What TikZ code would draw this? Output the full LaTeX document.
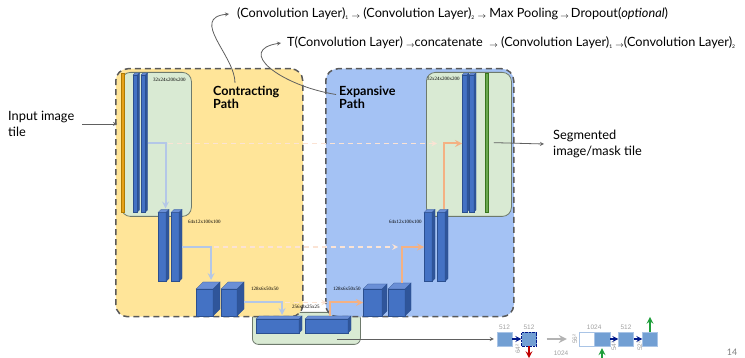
\documentclass[tikz,border=0pt]{standalone}
\usepackage{fontspec}
\setmainfont{Lato}
\newfontfamily\dimfont{Liberation Serif}
\newfontfamily\figfont{Liberation Sans}
\usetikzlibrary{arrows, positioning}

\definecolor{contractyellow}{HTML}{FFE599}
\definecolor{expandblue}{HTML}{A4C2F4}
\definecolor{stagegreen}{HTML}{D9EAD3}
\definecolor{stageedge}{HTML}{6E7A6C}
\definecolor{dashgray}{HTML}{595959}
\definecolor{layerblue}{HTML}{4472C4}
\definecolor{layertop}{HTML}{6A8FD6}
\definecolor{layerside}{HTML}{2F559A}
\definecolor{layeredge}{HTML}{2B4F8F}
\definecolor{inputgold}{HTML}{E6A118}
\definecolor{inputedge}{HTML}{B07B00}
\definecolor{outgreen}{HTML}{6AA84F}
\definecolor{outedge}{HTML}{38761D}
\definecolor{poolblue}{HTML}{B4C7E7}
\definecolor{uporange}{HTML}{F4B183}
\definecolor{croppink}{HTML}{FBE3D4}
\definecolor{arrowgray}{HTML}{606060}
\definecolor{mapblue}{HTML}{729FD3}
\definecolor{mapedge}{HTML}{A9C4E6}
\definecolor{navyarrow}{HTML}{00188A}
\definecolor{downred}{HTML}{C00000}
\definecolor{upgreen}{HTML}{1E9E3A}
\definecolor{labelgray}{HTML}{A0A0A0}

\tikzstyle{pathbox} = [rectangle, rounded corners=12pt, draw=dashgray, line width=1.5pt, dash pattern=on 6pt off 4pt, anchor=north west]
\tikzstyle{stage} = [rectangle, rounded corners=9pt, fill=stagegreen, draw=stageedge, line width=0.8pt, anchor=north west]
\tikzstyle{layer} = [rectangle, inner sep=0pt, outer sep=0pt, fill=layerblue, draw=layeredge, line width=0.3pt]
\tikzstyle{dims} = [font=\dimfont\fontsize{5}{6}\selectfont, inner sep=0pt, anchor=west]
\tikzstyle{caption} = [align=left, inner sep=0pt, anchor=west, font=\fontsize{12.8}{16}\selectfont]
\tikzstyle{pathname} = [align=left, inner sep=0pt, anchor=west, font=\bfseries\fontsize{12.6}{13.5}\selectfont]
\tikzstyle{row} = [inner sep=0pt, anchor=west, font=\fontsize{12.7}{14}\selectfont]
\tikzstyle{pool} = [line width=2pt, draw=poolblue, ->, >=stealth]
\tikzstyle{upconv} = [line width=2pt, draw=uporange, ->, >=stealth]
\tikzstyle{crop} = [line width=1.5pt, draw=croppink, dash pattern=on 5pt off 4pt, ->, >=stealth]
\tikzstyle{arrow} = [draw=arrowgray, line width=0.8pt, ->, >=stealth]
\tikzstyle{fmap} = [rectangle, inner sep=0pt, minimum width=15pt, minimum height=14pt, fill=mapblue, draw=mapedge, line width=0.4pt]
\tikzstyle{small} = [font=\figfont\fontsize{6.5}{7}\selectfont, text=labelgray, inner sep=0pt]
\tikzstyle{conv} = [draw=navyarrow, line width=1.6pt, ->, >=stealth]

% feature map drawn as a box: name, x, y, width, height, depth
\newcommand{\fmblock}[6]{%
  \node[layer, minimum width=#4pt, minimum height=#5pt, anchor=north west] (#1) at (#2,#3) {};
  \filldraw[fill=layertop, draw=layeredge, line width=0.3pt] (#1.north west) -- ++(#6,-#6) -- ++(#4,0) -- (#1.north east) -- cycle;
  \filldraw[fill=layerside, draw=layeredge, line width=0.3pt] (#1.north east) -- ++(#6,-#6) -- ++(0,#5) -- (#1.south east) -- cycle;
}
\newcommand{\ix}[1]{\raisebox{-2pt}{\fontsize{5}{5}\selectfont #1}}
\newcommand{\goesto}{\raisebox{-0.5pt}{\fontsize{8}{8}\selectfont$\rightarrow$}}

\begin{document}
\begin{tikzpicture}[x=1pt, y=-1pt]
\useasboundingbox (0,0) rectangle (745,358);

% bottleneck stage sits under the two paths
\node[stage, rounded corners=6pt, minimum width=108pt, minimum height=32pt] (bstage) at (252,312) {};

\node[pathbox, fill=contractyellow, minimum width=187pt, minimum height=248pt] (contract) at (115,68) {};
\node[pathbox, fill=expandblue, minimum width=188pt, minimum height=248pt] (expand) at (325,68) {};

\node[stage, minimum width=70pt, minimum height=144pt] (lstage) at (121,72) {};
\node[stage, minimum width=85pt, minimum height=144pt] (rstage) at (426,72) {};

% input tile and output mask
\node[rectangle, inner sep=0pt, fill=inputgold, draw=inputedge, line width=0.3pt, minimum width=2.5pt, minimum height=139pt, anchor=north west] (inbar) at (121,73) {};
\node[rectangle, inner sep=0pt, fill=outgreen, draw=outedge, line width=0.3pt, minimum width=2.5pt, minimum height=139pt, anchor=north west] (outbar) at (485,73) {};

% contracting path
\fmblock{l1a}{133}{75}{4.5}{137}{2}
\fmblock{l1b}{141}{75}{4.5}{137}{2}
\fmblock{l2a}{158}{212.5}{8}{69}{3}
\fmblock{l2b}{171}{212.5}{8}{69}{3}
\fmblock{l3a}{196}{289}{17}{27}{7}
\fmblock{l3b}{221}{289}{16}{27}{7}
% bottleneck
\fmblock{b1}{256}{319}{43}{14}{3}
\fmblock{b2}{305}{319}{43}{14}{3}
% expansive path
\fmblock{r3a}{363}{289}{19}{27}{5}
\fmblock{r3b}{388}{289}{17}{27}{6}
\fmblock{r2a}{424}{212.5}{8}{69}{3}
\fmblock{r2b}{437}{212.5}{8}{69}{3}
\fmblock{r1a}{462}{75}{5}{137}{2}
\fmblock{r1b}{469}{75}{5}{137}{2}

\node[dims] (d1l) at (153,80) {32x24x200x200};
\node[dims] (d2l) at (188,222) {64x12x100x100};
\node[dims] (d3l) at (251,289) {128x6x50x50};
\node[dims] (d4) at (292,307) {256x3x25x25};
\node[dims] (d3r) at (333,289) {128x6x50x50};
\node[dims] (d2r) at (389,222) {64x12x100x100};
\node[dims] (d1r) at (427,79) {32x24x200x200};

% max pooling
\draw[pool] ([xshift=2pt]l1b.east) -| ([xshift=3.5pt,yshift=4pt]l2a.north);
\draw[pool] ([xshift=3pt]l2b.east) -| ([xshift=6.5pt,yshift=9pt]l3a.north);
\draw[pool] ([xshift=7pt]l3b.east) -| ([xshift=4.5pt,yshift=4pt]b1.north);
% up-convolution
\draw[upconv] ([xshift=3.5pt,yshift=3pt]b2.north) |- (r3a.west);
\draw[upconv] ([xshift=5.5pt,yshift=6pt]r3b.north) |- (r2a.west);
\draw[upconv] ([xshift=3pt,yshift=3pt]r2b.north) |- (r1a.west);
% copy and crop
\draw[crop] ([xshift=6pt]l2a.north |- l1b.east) -- ([xshift=-4pt]r2b.north |- r1a.west);
\draw[crop] ([xshift=9pt]l3a.north |- l2b.east) -- ([xshift=1.5pt]r3b.north |- r2a.west);
\draw[crop] ([xshift=7.5pt]b1.north |- l3b.east) -- ([xshift=0.5pt]b2.north |- r3a.west);

% labels
\node[pathname] (clabel) at (213,97.5) {Contracting\\Path};
\node[pathname] (elabel) at (339,97.5) {Expansive\\Path};
\node[caption] (input) at (8,124) {Input image\\tile};
\node[caption] (output) at (553,144) {Segmented\\image/mask tile};
\node[row] (downrow) at (237,14)
  {(Convolution Layer)\ix{1} \goesto{} (Convolution Layer)\ix{2} \goesto{} Max Pooling\,\goesto\,Dropout(\textit{optional})};
\node[row] (uprow) at (287,43)
  {T(Convolution Layer) \goesto concatenate\ \ \goesto{} (Convolution Layer)\ix{1} \goesto(Convolution Layer)\ix{2}};

\draw[arrow] ([xshift=8pt]input.east) -- ([xshift=2pt]input.east -| contract.west);
\draw[arrow] ([xshift=6pt]outbar.east) -- ([xshift=-9pt]output.west);
\draw[arrow] ([xshift=22pt,yshift=3pt]clabel.north west) .. controls +(0,-27) and +(-40,4) .. ([xshift=-8pt]downrow.west);
\draw[arrow] ([xshift=-3pt,yshift=3pt]elabel.west) .. controls +(-56,-9) and +(-46,7) .. ([xshift=-6pt]uprow.west);

% bottom of the original U-Net
\node[fmap] (m1) at (504.5,339) {};
\node[fmap, draw=navyarrow, densely dotted] (m2) at (529,339) {};
\node[fmap, fill=white] (m3) at (586.5,339) {};
\node[fmap, minimum width=16pt] (m4) at (602,339) {};
\node[fmap] (m5) at (626,339) {};
\node[fmap] (m6) at (650,339) {};
\node[small, above=2pt of m1] (c1) {512};
\node[small, above=2pt of m2] (c2) {512};
\node[small, above=2pt of m3.north east] (c4) {1024};
\node[small, above=2pt of m5] (c5) {512};
\node[small, rotate=90] (s1) at (518,349) {64²};
\node[small, rotate=90] (s2) at (575,339) {56²};
\node[small, rotate=90] (s3) at (614,346) {54²};
\node[small, rotate=90] (s4) at (640,346) {52²};
\node[small] (c3) at (561,353.5) {1024};

\draw[arrow] ([xshift=-24pt]bstage.east |- m1.west) -- ([xshift=-3pt]m1.west);
\draw[conv] (m1) -- (m2);
\draw[conv] (m4) -- (m5);
\draw[conv] (m5) -- (m6);
\draw[line width=2pt, draw=downred, ->, >=stealth] (m2.south) -- ++(0,12);
\draw[line width=2pt, draw=upgreen, ->, >=stealth] ([yshift=-14pt]m4.south) -- ([yshift=-2pt]m4.south);
\draw[line width=2pt, draw=upgreen, ->, >=stealth] (m6.north) -- ++(0,-15);
\draw[line width=2.5pt, draw=labelgray!80, ->, >=stealth] ([xshift=10pt]m2.east) -- ([xshift=-12pt]m3.west);

\node[inner sep=0pt, text=gray, font=\fontsize{9}{10}\selectfont] (page) at (732,352) {14};
\end{tikzpicture}
\end{document}
